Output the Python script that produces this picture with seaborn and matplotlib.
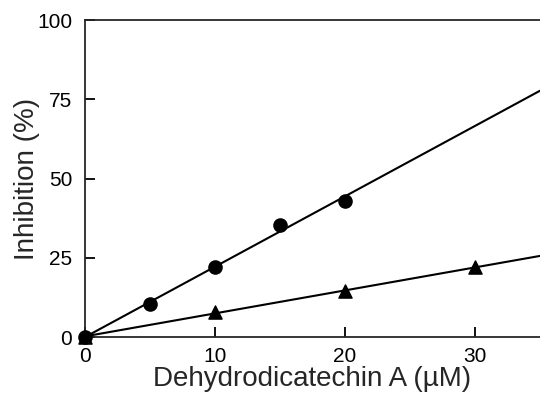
import numpy as np
import pandas as pd
import matplotlib
matplotlib.use('Agg')
import matplotlib.pyplot as plt
import seaborn as sns

# concentration (uM) and inhibition (%)
conc_circle = [0, 5, 10, 15, 20]
inhib_circle = [0, 10.5, 22, 35.5, 43]
conc_triangle = [0, 10, 20, 30]
inhib_triangle = [0, 8, 14.5, 22]

x_ticks = [0, 10, 20, 30]
y_ticks = [0, 25, 50, 75, 100]

sns.set_style('ticks')
plt.rcParams['font.family'] = ['Liberation Sans', 'DejaVu Sans']

df_c = pd.DataFrame({'conc': conc_circle, 'inhib': inhib_circle})
df_t = pd.DataFrame({'conc': conc_triangle, 'inhib': inhib_triangle})

fig = plt.figure(figsize=(5.4, 4), dpi=100)
ax = fig.add_axes([0.157, 0.157, 0.843, 0.793])
ax.set_xlim(0, 35)
ax.set_ylim(0, 100)

# regression lines extend over the whole x range
sns.regplot(data=df_c, x='conc', y='inhib', ax=ax, ci=None, truncate=False,
            marker='o', color='black',
            scatter_kws={'s': 90, 'clip_on': False, 'zorder': 5, 'alpha': 1},
            line_kws={'lw': 1.5})
sns.regplot(data=df_t, x='conc', y='inhib', ax=ax, ci=None, truncate=False,
            marker='^', color='black',
            scatter_kws={'s': 90, 'clip_on': False, 'zorder': 5, 'alpha': 1},
            line_kws={'lw': 1.5})

ax.set_xlim(0, 35)
ax.set_ylim(0, 100)
ax.set_xticks(x_ticks)
ax.set_yticks(y_ticks)
ax.tick_params(direction='in', length=7, width=1.3, labelsize=15,
               colors='black')
ax.tick_params(axis='y', pad=9)
ax.tick_params(axis='x', pad=7)

for side in ['left', 'bottom', 'top']:
    ax.spines[side].set_linewidth(1.3)
ax.spines['right'].set_visible(False)

ax.set_xlabel('Dehydrodicatechin A (\u00b5M)', fontsize=20, labelpad=0)
ax.set_ylabel('Inhibition (%)', fontsize=20, labelpad=-2)

fig.savefig('out.png', dpi=100)
